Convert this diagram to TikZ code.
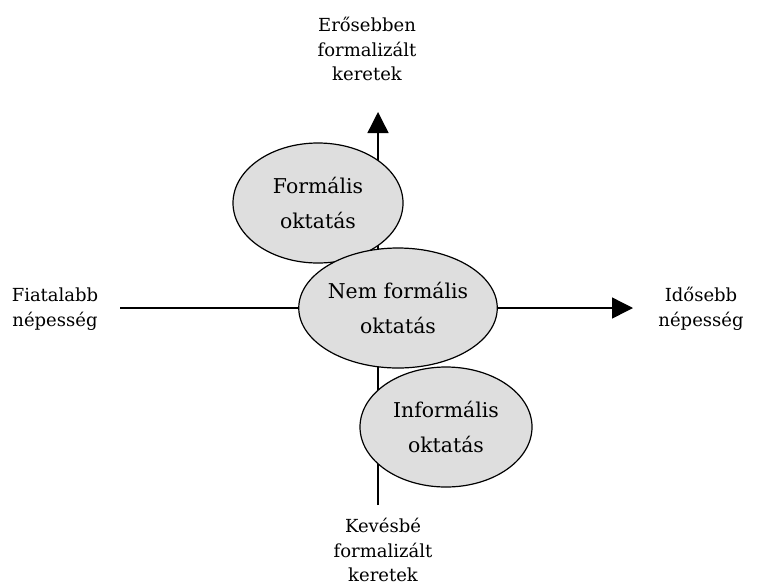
\documentclass[tikz,border=0pt]{standalone}
\usepackage{fontspec}
\setmainfont{DejaVu Serif}
\usetikzlibrary{arrows.meta,shapes.geometric}
\begin{document}
\begin{tikzpicture}[x=0.5pt, y=-0.5pt,
	field/.style={ellipse, draw, line width=0.6pt, fill=black!13, inner sep=0pt, minimum height=60pt, align=center, font=\fontsize{10.2}{17.5}\selectfont},
	axislabel/.style={align=center, font=\fontsize{9}{12.3}\selectfont},
	axis/.style={line width=0.7pt, -{Triangle[length=10.5pt, width=10.5pt]}} ]
		\useasboundingbox (0,0) rectangle (763,584);
		% axes
		\coordinate (bottom) at (378,505);
		\coordinate (top) at (378,112);
		\coordinate (left) at (120,308);
		\coordinate (right) at (633,308);
		\draw[axis] (bottom) -- (top);
		\draw[axis] (left) -- (right);
		% axis labels
		\node[axislabel] (more) at (367,49) {Erősebben\\formalizált\\keretek};
		\node[axislabel] (less) at (383,550) {Kevésbé\\formalizált\\keretek};
		\node[axislabel] (young) at (55,309) {Fiatalabb\\népesség};
		\node[axislabel] (old) at (701,309) {Idősebb\\népesség};
		% fields
		\node[field, minimum width=85pt] (formal) at (318,203) {Formális\\oktatás};
		\node[field, minimum width=98pt] (nonformal) at (398,308) {Nem formális\\oktatás};
		\node[field, minimum width=86pt] (informal) at (446,427) {Informális\\oktatás};
	\end{tikzpicture}
\end{document}
